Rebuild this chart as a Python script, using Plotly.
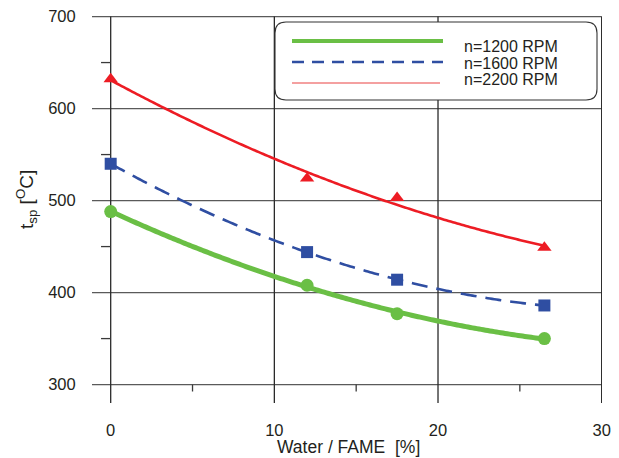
import numpy as np
import plotly.graph_objects as go

# ---- data ----
water_fame = [0, 12, 17.5, 26.5]
t_1200 = [488, 408, 377, 350]
t_1600 = [540, 444, 414, 386]
t_2200 = [632, 524, 503, 449]
series_names = ["n=1200 RPM", "n=1600 RPM", "n=2200 RPM"]
x_ticks = [0, 10, 20, 30]
y_ticks = [300, 400, 500, 600, 700]
x_minor = [5, 15, 25]
y_minor = [350, 450, 550, 650]

GREEN = "#6abf45"
BLUE = "#2f4ea2"
RED = "#ed1c24"
TXT = "#231f20"

X0, X1 = -1.142, 30.02
Y0, Y1 = 280, 700.6

OFF = 8  # page body margin offset
W, H = 619 - OFF, 458 - OFF

fig = go.Figure()

def trend(xs, ys):
    c = np.polyfit(xs, ys, 2)
    xx = np.linspace(min(xs), max(xs), 200)
    return xx, np.polyval(c, xx)

styles = [
    (t_2200, RED, 2.6, "solid", "triangle-up", 12.5),
    (t_1600, BLUE, 2.6, "16px,9px", "square", 12),
    (t_1200, GREEN, 5, "solid", "circle", 13),
]
for ys, col, w, dash, sym, ms in styles:
    xx, yy = trend(water_fame, ys)
    fig.add_trace(go.Scatter(x=xx, y=yy, mode="lines",
                             line=dict(color=col, width=w, dash=dash, simplify=False),
                             showlegend=False, hoverinfo="skip"))
for ys, col, w, dash, sym, ms in styles:
    fig.add_trace(go.Scatter(x=water_fame, y=ys, mode="markers",
                             marker=dict(color=col, size=ms, symbol=sym, line=dict(width=0)),
                             showlegend=False))

shapes = []
for yv in y_ticks:
    shapes.append(dict(type="line", xref="x", yref="y", x0=X0, x1=30, y0=yv, y1=yv,
                       line=dict(color="#5a5a5a", width=1.3), layer="below"))
for xv in x_ticks:
    shapes.append(dict(type="line", xref="x", yref="y", x0=xv, x1=xv, y0=Y0, y1=700,
                       line=dict(color="#2a2a2a", width=1.3), layer="below"))
for yv in y_minor:
    shapes.append(dict(type="line", xref="x", yref="y", x0=-0.59, x1=0, y0=yv, y1=yv,
                       line=dict(color="#3a3a3a", width=1.3), layer="below"))
for xv in x_minor:
    shapes.append(dict(type="line", xref="x", yref="y", x0=xv, x1=xv, y0=300, y1=292.5,
                       line=dict(color="#3a3a3a", width=1.3), layer="below"))

# target pixel positions (screen) of plot area
L, R, T, B = 92, 602, 16, 403
def px(xp):
    return (xp - L) / (R - L)
def py(yp):
    return (B - yp) / (B - T)

bx0, bx1, by0, by1, rad = 275, 597, 22, 100, 11
path = (f"M {px(bx0+rad)},{py(by0)} L {px(bx1-rad)},{py(by0)} "
        f"Q {px(bx1)},{py(by0)} {px(bx1)},{py(by0+rad)} "
        f"L {px(bx1)},{py(by1-rad)} Q {px(bx1)},{py(by1)} {px(bx1-rad)},{py(by1)} "
        f"L {px(bx0+rad)},{py(by1)} Q {px(bx0)},{py(by1)} {px(bx0)},{py(by1-rad)} "
        f"L {px(bx0)},{py(by0+rad)} Q {px(bx0)},{py(by0)} {px(bx0+rad)},{py(by0)} Z")
shapes.append(dict(type="path", xref="paper", yref="paper", path=path,
                   fillcolor="white", line=dict(color="#333333", width=1.1), layer="above"))
leg_lines = [(41, GREEN, 4, "solid", 443), (62, BLUE, 2.6, "12px,8px", 443), (83, "#f08080", 1.5, "solid", 440)]
for yp, col, w, dash, xe in leg_lines:
    shapes.append(dict(type="line", xref="paper", yref="paper", x0=px(292), x1=px(xe),
                       y0=py(yp), y1=py(yp), line=dict(color=col, width=w, dash=dash), layer="above"))

annotations = []
for name, yp in zip(series_names, [46.5, 63, 79.5]):
    annotations.append(dict(text=name, xref="paper", yref="paper", x=px(462), y=py(yp),
                            xanchor="left", yanchor="middle", showarrow=False,
                            font=dict(size=16, color=TXT)))
annotations.append(dict(text="Water / FAME \u00a0[%]", xref="paper", yref="paper",
                        x=px(348), y=py(447), xanchor="center", yanchor="middle", showarrow=False,
                        font=dict(size=17.5, color=TXT)))
annotations.append(dict(text="t<sub>sp</sub> [<sup>O</sup>C]", xref="paper", yref="paper",
                        x=px(26), y=py(200), xanchor="center", yanchor="middle", showarrow=False,
                        textangle=-90, font=dict(size=19, color=TXT)))

fig.update_layout(
    width=W, height=H,
    margin=dict(l=L - OFF, r=619 - R, t=T - OFF, b=458 - B, autoexpand=False),
    paper_bgcolor="white", plot_bgcolor="white",
    font=dict(family="Liberation Sans, Arial, sans-serif", color=TXT, size=16.5),
    shapes=shapes, annotations=annotations, showlegend=False,
    xaxis=dict(range=[X0, X1], tickvals=x_ticks, showgrid=False, zeroline=False,
               showline=False, ticks="outside", ticklen=12, tickcolor="rgba(0,0,0,0)",
               ticklabeloverflow="allow", tickfont=dict(size=16.5, color=TXT)),
    yaxis=dict(range=[Y0, Y1], tickvals=y_ticks, showgrid=False, zeroline=False,
               showline=False, ticks="outside", ticklen=12, tickcolor="rgba(0,0,0,0)",
               ticklabeloverflow="allow", tickfont=dict(size=16.5, color=TXT)),
)

fig.write_html("out.html")
